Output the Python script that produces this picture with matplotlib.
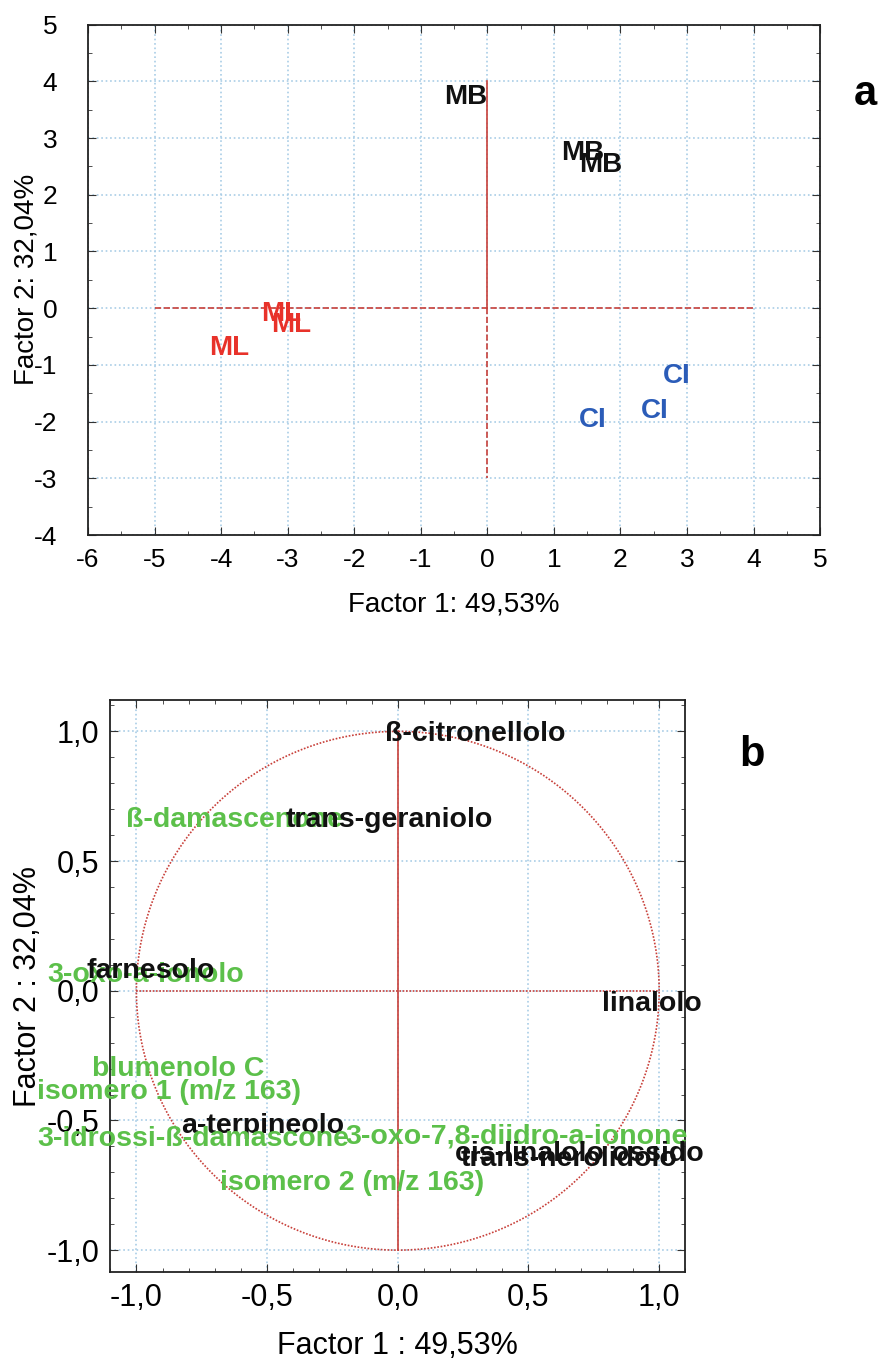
import matplotlib
matplotlib.use("Agg")
import matplotlib.pyplot as plt
import numpy as np
from matplotlib.ticker import MultipleLocator, FuncFormatter

plt.rcParams['font.family'] = ['Liberation Sans', 'DejaVu Sans']

# panel a: sample scores
score_labels = ['MB', 'MB', 'MB', 'ML', 'ML', 'ML', 'CI', 'CI', 'CI']
score_f1 = [-0.32, 1.44, 1.71, -3.10, -2.95, -3.88, 2.84, 2.51, 1.59]
score_f2 = [3.73, 2.74, 2.53, -0.10, -0.29, -0.71, -1.19, -1.81, -1.97]
group_colors = {'MB': '#111111', 'ML': '#e8322a', 'CI': '#2b5cb8'}

# panel b: variable loadings (label anchor, left edge)
var_names = ['ß-citronellolo', 'ß-damascenone', 'trans-geraniolo', '3-oxo-a-ionolo',
             'farnesolo', 'linalolo', 'blumenolo C', 'isomero 1 (m/z 163)',
             'a-terpineolo', '3-idrossi-ß-damascone', '3-oxo-7,8-diidro-a-ionone',
             'cis-linalolo ossido', 'trans-nerolidolo', 'isomero 2 (m/z 163)']
var_f1 = [-0.05, -1.04, -0.43, -1.34, -1.19, 0.78, -1.17, -1.38,
          -0.83, -1.38, -0.20, 0.22, 0.24, -0.68]
var_f2 = [0.99, 0.66, 0.66, 0.06, 0.075, -0.05, -0.30, -0.39,
          -0.52, -0.57, -0.56, -0.63, -0.65, -0.74]
var_green = [False, True, False, True, False, False, True, True,
             False, True, True, False, False, True]

green = '#5cc04a'
red = '#c8403a'
grid_col = '#a9cde6'

fig = plt.figure(figsize=(8.82, 13.65), dpi=100)


def style_axes(ax):
    ax.grid(True, which='major', color=grid_col, linestyle=':', linewidth=1.2)
    ax.tick_params(which='both', direction='in', top=True, right=True,
                   color='#333333')
    ax.tick_params(which='major', length=6)
    ax.tick_params(which='minor', length=3)
    for s in ax.spines.values():
        s.set_linewidth(1.3)
        s.set_color('#222222')
    ax.set_axisbelow(True)


# ---- panel a ----
ax1 = fig.add_axes([0.0998, 0.608, 0.830, 0.374])
ax1.set_xlim(-6, 5)
ax1.set_ylim(-4, 5)
ax1.xaxis.set_major_locator(MultipleLocator(1))
ax1.yaxis.set_major_locator(MultipleLocator(1))
ax1.xaxis.set_minor_locator(MultipleLocator(0.5))
ax1.yaxis.set_minor_locator(MultipleLocator(0.5))
style_axes(ax1)
ax1.tick_params(axis='x', labelsize=19, pad=9)
ax1.tick_params(axis='y', labelsize=19, pad=22)
ax1.xaxis.set_major_formatter(FuncFormatter(lambda v, p: '%d' % v))
ax1.yaxis.set_major_formatter(FuncFormatter(lambda v, p: '%d' % v))

ax1.plot([-5, 4], [0, 0], color=red, linestyle='--', linewidth=1.2)
ax1.plot([0, 0], [0, 4], color=red, linestyle='-', linewidth=1.2)
ax1.plot([0, 0], [0, -3], color=red, linestyle='--', linewidth=1.2)

for lab, x, y in zip(score_labels, score_f1, score_f2):
    ax1.text(x, y, lab, color=group_colors[lab], fontsize=20, fontweight='bold',
             ha='center', va='center')

ax1.set_xlabel('Factor 1: 49,53%', fontsize=20, labelpad=14)
ax1.set_ylabel('Factor 2: 32,04%', fontsize=20, labelpad=-4)
fig.text(0.981, 0.931, 'a', fontsize=30, fontweight='bold', ha='center', va='center')

# ---- panel b ----
ax2 = fig.add_axes([0.125, 0.068, 0.652, 0.419])
ax2.set_xlim(-1.1, 1.1)
ax2.set_ylim(-1.085, 1.12)
ax2.xaxis.set_major_locator(MultipleLocator(0.5))
ax2.yaxis.set_major_locator(MultipleLocator(0.5))
ax2.xaxis.set_minor_locator(MultipleLocator(0.1))
ax2.yaxis.set_minor_locator(MultipleLocator(0.1))
style_axes(ax2)
ax2.tick_params(labelsize=22, pad=8)
fmt = FuncFormatter(lambda v, p: ('%.1f' % v).replace('.', ','))
ax2.xaxis.set_major_formatter(fmt)
ax2.yaxis.set_major_formatter(fmt)

t = np.linspace(0, 2 * np.pi, 400)
ax2.plot(np.cos(t), np.sin(t), color=red, linestyle=(0, (1, 1)), linewidth=1.2)
ax2.plot([-1, 1], [0, 0], color=red, linestyle=(0, (1, 1)), linewidth=1.2)
ax2.plot([0, 0], [-1, 1], color=red, linestyle='-', linewidth=1.2)

for name, x, y, g in zip(var_names, var_f1, var_f2, var_green):
    ax2.text(x, y, name, color=green if g else '#111111', fontsize=20.5,
             fontweight='bold', ha='left', va='center', clip_on=False)

ax2.set_xlabel('Factor 1 : 49,53%', fontsize=22, labelpad=13)
ax2.set_ylabel('Factor 2 : 32,04%', fontsize=22, labelpad=2)
fig.text(0.853, 0.447, 'b', fontsize=30, fontweight='bold', ha='center', va='center')

fig.savefig('out.png', dpi=100)
